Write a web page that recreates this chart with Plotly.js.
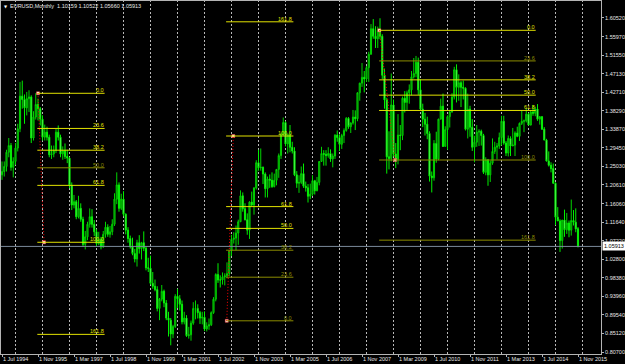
<!DOCTYPE html>
<html><head><meta charset="utf-8">
<script src="https://cdn.plot.ly/plotly-3.0.1.min.js"></script>
<style>html,body{margin:0;padding:0;background:#000;}#chart{width:625px;height:364px;}</style>
</head><body><div id="chart"></div>
<script>
// Monthly bars, Jul 1994 .. Nov 2015
const open = [
1.230,1.238,1.250,1.284,1.300,1.248,
1.262,1.294,1.340,1.418,1.410,1.390,1.412,1.416,1.318,1.368,1.398,1.388,
1.363,1.320,1.332,1.320,1.278,1.280,1.288,1.332,1.320,1.280,1.288,1.274,
1.270,1.205,1.158,1.166,1.130,1.150,1.124,1.064,1.082,1.112,1.130,1.112,
1.094,1.066,1.076,1.058,1.088,1.105,1.088,1.094,1.112,1.172,1.206,1.150,
1.172,1.136,1.098,1.078,1.058,1.042,1.029,1.068,1.054,1.068,1.055,1.008,
1.007,0.971,0.964,0.956,0.911,0.933,0.952,0.924,0.888,0.883,0.850,0.868,
0.940,0.934,0.921,0.879,0.888,0.846,0.848,0.876,0.911,0.911,0.901,0.888,
0.890,0.862,0.869,0.872,0.901,0.933,0.992,0.979,0.979,0.986,0.989,0.994,
1.049,1.076,1.079,1.091,1.118,1.180,1.149,1.123,1.098,1.165,1.158,1.199,
1.259,1.247,1.248,1.232,1.197,1.220,1.217,1.202,1.217,1.243,1.276,1.326,
1.355,1.304,1.325,1.296,1.287,1.230,1.210,1.212,1.233,1.203,1.199,1.179,
1.184,1.216,1.192,1.212,1.262,1.281,1.279,1.276,1.281,1.268,1.275,1.325,
1.319,1.303,1.324,1.336,1.365,1.345,1.354,1.368,1.364,1.426,1.449,1.463,
1.459,1.486,1.518,1.579,1.561,1.555,1.575,1.561,1.468,1.409,1.273,1.269,
1.397,1.280,1.267,1.325,1.324,1.413,1.403,1.426,1.433,1.464,1.472,1.499,
1.433,1.387,1.363,1.351,1.329,1.227,1.223,1.305,1.268,1.363,1.394,1.298,
1.338,1.369,1.380,1.416,1.481,1.439,1.450,1.439,1.437,1.339,1.387,1.344,
1.296,1.308,1.332,1.334,1.324,1.236,1.266,1.230,1.258,1.286,1.296,1.299,
1.319,1.358,1.306,1.282,1.317,1.299,1.301,1.330,1.322,1.353,1.358,1.359,
1.375,1.349,1.380,1.377,1.387,1.363,1.369,1.339,1.313,1.263,1.253,1.245,
1.210,1.129,1.120,1.073,1.122,1.099,1.115,1.098,1.121,1.117,1.10159];
const high = [
1.262,1.262,1.290,1.318,1.306,1.272,
1.306,1.352,1.452,1.455,1.422,1.428,1.432,1.420,1.382,1.425,1.412,1.392,
1.372,1.350,1.345,1.326,1.300,1.300,1.340,1.348,1.326,1.298,1.305,1.290,
1.272,1.212,1.182,1.170,1.180,1.162,1.130,1.096,1.118,1.150,1.148,1.122,
1.100,1.094,1.082,1.096,1.118,1.112,1.108,1.124,1.186,1.236,1.212,1.185,
1.191,1.138,1.105,1.085,1.080,1.053,1.075,1.086,1.070,1.095,1.060,1.032,
1.037,0.998,0.980,0.964,0.936,0.967,0.956,0.931,0.903,0.888,0.872,0.945,
0.958,0.943,0.930,0.903,0.895,0.867,0.882,0.926,0.930,0.921,0.905,0.903,
0.904,0.878,0.887,0.904,0.938,0.995,1.019,0.990,0.997,0.995,1.021,1.050,
1.087,1.093,1.109,1.123,1.193,1.188,1.162,1.138,1.167,1.190,1.200,1.265,
1.290,1.293,1.250,1.236,1.226,1.231,1.236,1.233,1.244,1.281,1.330,1.367,
1.358,1.329,1.349,1.309,1.296,1.239,1.229,1.250,1.257,1.214,1.208,1.209,
1.229,1.218,1.225,1.263,1.297,1.289,1.289,1.296,1.291,1.281,1.327,1.336,
1.327,1.328,1.341,1.368,1.368,1.355,1.385,1.384,1.427,1.450,1.497,1.478,
1.490,1.524,1.590,1.602,1.585,1.584,1.604,1.566,1.484,1.414,1.334,1.472,
1.410,1.306,1.375,1.349,1.417,1.430,1.431,1.446,1.478,1.509,1.514,1.510,
1.458,1.400,1.378,1.369,1.334,1.238,1.313,1.333,1.364,1.412,1.424,1.346,
1.372,1.385,1.425,1.488,1.494,1.470,1.454,1.455,1.439,1.424,1.395,1.363,
1.323,1.349,1.339,1.338,1.328,1.272,1.268,1.264,1.317,1.309,1.306,1.331,
1.371,1.371,1.311,1.324,1.322,1.342,1.334,1.345,1.355,1.383,1.362,1.389,
1.378,1.384,1.397,1.393,1.399,1.370,1.370,1.344,1.316,1.286,1.260,1.257,
1.212,1.153,1.124,1.122,1.147,1.139,1.121,1.171,1.146,1.150,1.10522];
const low = [
1.218,1.226,1.238,1.272,1.240,1.224,
1.254,1.286,1.332,1.388,1.352,1.372,1.380,1.306,1.312,1.362,1.360,1.348,
1.312,1.312,1.312,1.272,1.268,1.272,1.282,1.312,1.272,1.266,1.268,1.258,
1.198,1.146,1.150,1.124,1.126,1.118,1.058,1.052,1.074,1.104,1.104,1.084,
1.060,1.062,1.052,1.056,1.080,1.082,1.080,1.086,1.108,1.160,1.142,1.146,
1.131,1.088,1.068,1.054,1.038,1.021,1.011,1.042,1.028,1.048,1.002,0.998,
0.968,0.958,0.952,0.904,0.883,0.928,0.914,0.883,0.844,0.823,0.840,0.864,
0.912,0.906,0.873,0.873,0.843,0.839,0.834,0.872,0.885,0.887,0.874,0.873,
0.857,0.856,0.860,0.869,0.898,0.928,0.972,0.961,0.968,0.966,0.983,0.988,
1.036,1.066,1.050,1.063,1.118,1.142,1.121,1.087,1.077,1.155,1.135,1.195,
1.240,1.240,1.208,1.176,1.176,1.199,1.199,1.200,1.205,1.223,1.268,1.323,
1.298,1.281,1.284,1.281,1.227,1.199,1.187,1.208,1.199,1.190,1.164,1.172,
1.180,1.183,1.191,1.205,1.261,1.252,1.252,1.271,1.261,1.248,1.268,1.309,
1.287,1.292,1.306,1.333,1.340,1.330,1.350,1.337,1.358,1.407,1.440,1.427,
1.452,1.452,1.517,1.555,1.533,1.533,1.554,1.459,1.388,1.233,1.243,1.262,
1.274,1.246,1.255,1.289,1.313,1.379,1.385,1.400,1.420,1.460,1.463,1.421,
1.386,1.344,1.324,1.315,1.214,1.188,1.216,1.259,1.265,1.364,1.297,1.298,
1.290,1.343,1.379,1.410,1.403,1.407,1.392,1.410,1.336,1.317,1.321,1.287,
1.260,1.297,1.299,1.300,1.232,1.229,1.204,1.213,1.254,1.280,1.267,1.292,
1.300,1.302,1.275,1.274,1.275,1.300,1.275,1.320,1.311,1.349,1.332,1.355,
1.349,1.348,1.371,1.370,1.359,1.350,1.338,1.313,1.262,1.250,1.236,1.209,
1.110,1.125,1.046,1.054,1.082,1.089,1.081,1.085,1.109,1.093,1.05660];
const close = [
1.238,1.250,1.284,1.300,1.248,1.262,
1.294,1.340,1.418,1.410,1.390,1.412,1.416,1.318,1.368,1.398,1.388,1.363,
1.320,1.332,1.320,1.278,1.280,1.288,1.332,1.320,1.280,1.288,1.274,1.270,
1.205,1.158,1.166,1.130,1.150,1.124,1.064,1.082,1.112,1.130,1.112,1.094,
1.066,1.076,1.058,1.088,1.105,1.088,1.094,1.112,1.172,1.206,1.150,1.172,
1.136,1.098,1.078,1.058,1.042,1.029,1.068,1.054,1.068,1.055,1.008,1.007,
0.971,0.964,0.956,0.911,0.933,0.952,0.924,0.888,0.883,0.850,0.868,0.940,
0.934,0.921,0.879,0.888,0.846,0.848,0.876,0.911,0.911,0.901,0.888,0.890,
0.862,0.869,0.872,0.901,0.933,0.992,0.979,0.979,0.986,0.989,0.994,1.049,
1.076,1.079,1.091,1.118,1.180,1.149,1.123,1.098,1.165,1.158,1.199,1.259,
1.247,1.248,1.232,1.197,1.220,1.217,1.202,1.217,1.243,1.276,1.326,1.355,
1.304,1.325,1.296,1.287,1.230,1.210,1.212,1.233,1.203,1.199,1.179,1.184,
1.216,1.192,1.212,1.262,1.281,1.279,1.276,1.281,1.268,1.275,1.325,1.319,
1.303,1.324,1.336,1.365,1.345,1.354,1.368,1.364,1.426,1.449,1.463,1.459,
1.486,1.518,1.579,1.561,1.555,1.575,1.561,1.468,1.409,1.273,1.269,1.397,
1.280,1.267,1.325,1.324,1.413,1.403,1.426,1.433,1.464,1.472,1.499,1.433,
1.387,1.363,1.351,1.329,1.227,1.223,1.305,1.268,1.363,1.394,1.298,1.338,
1.369,1.380,1.416,1.481,1.439,1.450,1.439,1.437,1.339,1.387,1.344,1.296,
1.308,1.332,1.334,1.324,1.236,1.266,1.230,1.258,1.286,1.296,1.299,1.319,
1.358,1.306,1.282,1.317,1.299,1.301,1.330,1.322,1.353,1.358,1.359,1.375,
1.349,1.380,1.377,1.387,1.363,1.369,1.339,1.313,1.263,1.253,1.245,1.210,
1.129,1.120,1.073,1.122,1.099,1.115,1.098,1.121,1.117,1.101,1.05913];

const xTickIdx = [0,16,32,48,64,80,96,112,128,144,160,176,192,208,224,240,256];
const xTickText = ['1 Jul 1994','1 Nov 1995','1 Mar 1997','1 Jul 1998','1 Nov 1999','1 Mar 2001',
  '1 Jul 2002','1 Nov 2003','1 Mar 2005','1 Jul 2006','1 Nov 2007','1 Mar 2009','1 Jul 2010',
  '1 Nov 2011','1 Mar 2013','1 Jul 2014','1 Nov 2015'];
const gridIdx = [6,18,30,42,54,66,78,90,102,114,126,138,150,162,174,186,198,210,222,234,246,258];
const yTickVals = [1.60520,1.55970,1.51550,1.47130,1.42710,1.38290,1.33870,1.29450,1.25030,
  1.20610,1.16060,1.11640,1.07220,1.02800,0.98380,0.93960,0.89540,0.85120,0.80700];
const lastPrice = 1.05913;
const titleText = 'EURUSD,Monthly  1.10159 1.10522 1.05660 1.05913';

// Fibonacci retracement objects
const fibLevels = [0, 23.6, 38.2, 50, 61.8, 100, 161.8];
const fibLabels = ['0.0','23.6','38.2','50.0','61.8','100.0','161.8'];
const fibPrice0 = [1.4248, 0.8815, 1.5752];
const fibPrice100 = [1.0690, 1.3228, 1.2655];
const fibAnchor0 = [16.0, 99.9, 167.7];
const fibAnchor100 = [18.7, 102.8, 174.7];
const fibLineFrom = [15.7, 99.6, 167.6];
const fibLineTo = [45.6, 129.5, 237.2];
const fibDim = [[0,0,0,1,0,0,0],[1,1,1,0,0,0,0],[0,1,0,0,0,1,1]];

const idx = close.map((_, i) => i);
const FONT = 'Liberation Sans, Arial, sans-serif';
const YEL = '#e2e200', YEL_D = '#8c8c00';

const shapes = [];
const annotations = [];

gridIdx.forEach(g => shapes.push({type:'line', xref:'x', yref:'paper', x0:g, x1:g, y0:0, y1:1,
  layer:'below', line:{color:'#b8b8b8', width:1, dash:'2px,2px'}}));

shapes.push({type:'line', xref:'paper', yref:'y', x0:0, x1:1, y0:lastPrice, y1:lastPrice,
  layer:'above', line:{color:'#7a8a9a', width:1}});

const mx = [], my = [];
fibPrice0.forEach((p0, k) => {
  const p100 = fibPrice100[k];
  fibLevels.forEach((lv, j) => {
    const p = p0 + (p100 - p0) * lv / 100;
    const col = fibDim[k][j] ? YEL_D : YEL;
    shapes.push({type:'line', xref:'x', yref:'y', x0:fibLineFrom[k], x1:fibLineTo[k], y0:p, y1:p,
      line:{color:col, width:1}});
    annotations.push({xref:'x', yref:'y', x:fibLineTo[k], y:p, text:fibLabels[j], showarrow:false,
      xanchor:'right', yanchor:'bottom', borderpad:0, yshift:-1,
      font:{family:FONT, size:5.5, color:col}});
  });
  shapes.push({type:'line', xref:'x', yref:'y', x0:fibAnchor0[k], x1:fibAnchor100[k], y0:p0, y1:p100,
    line:{color:'#ff0000', width:1, dash:'1px,2px'}});
  mx.push(fibAnchor0[k], fibAnchor100[k]); my.push(p0, p100);
});

// time axis labels (left-aligned at their tick, as in the terminal)
xTickIdx.forEach((t, i) => annotations.push({xref:'x', yref:'paper', x:t, y:0, xanchor:'left', yanchor:'top',
  xshift:0, yshift:-1, text:xTickText[i], showarrow:false, borderpad:0,
  font:{family:FONT, size:5.5, color:'#e6e6e6'}}));

annotations.push({xref:'paper', yref:'paper', x:0, y:1, xanchor:'left', yanchor:'middle', xshift:2, yshift:-5,
  text:'▼', showarrow:false, borderpad:0, font:{family:'DejaVu Sans', size:4, color:'#ffffff'}});
annotations.push({xref:'paper', yref:'paper', x:0, y:1, xanchor:'left', yanchor:'middle', xshift:8, yshift:-5,
  text:titleText, showarrow:false, borderpad:0, font:{family:FONT, size:5.5, color:'#e8e8e8'}});
annotations.push({xref:'paper', yref:'y', x:1, y:lastPrice, xanchor:'left', yanchor:'middle', xshift:1,
  text:lastPrice.toFixed(5), showarrow:false, bgcolor:'#ffffff', borderpad:1,
  font:{family:FONT, size:5.5, color:'#000000'}});

const traces = [
  {type:'candlestick', x:idx, open:open, high:high, low:low, close:close,
   increasing:{line:{color:'#00d400', width:1}, fillcolor:'#0a5a0a'},
   decreasing:{line:{color:'#00f000', width:1}, fillcolor:'#c0ffc0'},
   whiskerwidth:0, hoverinfo:'none', showlegend:false},
  {type:'scatter', mode:'markers', x:mx, y:my, hoverinfo:'none', showlegend:false,
   marker:{symbol:'square', size:3, color:'#ffffff', line:{color:'#ff3030', width:0.5}}}
];

const layout = {
  width:625, height:364, paper_bgcolor:'#000000', plot_bgcolor:'#000000',
  margin:{l:1, r:24, t:1, b:10}, showlegend:false, dragmode:false,
  xaxis:{range:[-0.444, 266.22], tickvals:xTickIdx, showticklabels:false,
    showgrid:false, zeroline:false, showline:true, mirror:true, linecolor:'#b4b4b4', linewidth:1,
    ticks:'outside', ticklen:2, tickcolor:'#b4b4b4',
    rangeslider:{visible:false}, fixedrange:true},
  yaxis:{side:'right', range:[0.80222, 1.64519], tickvals:yTickVals, ticktext:yTickVals.map(v => v.toFixed(5)),
    showgrid:false, zeroline:false, showline:true, mirror:true, linecolor:'#b4b4b4', linewidth:1,
    ticks:'outside', ticklen:2, tickcolor:'#b4b4b4', tickfont:{family:FONT, size:5.5, color:'#e6e6e6'},
    fixedrange:true},
  shapes:shapes, annotations:annotations
};

Plotly.newPlot('chart', traces, layout, {staticPlot:true, displayModeBar:false});
</script></body></html>
